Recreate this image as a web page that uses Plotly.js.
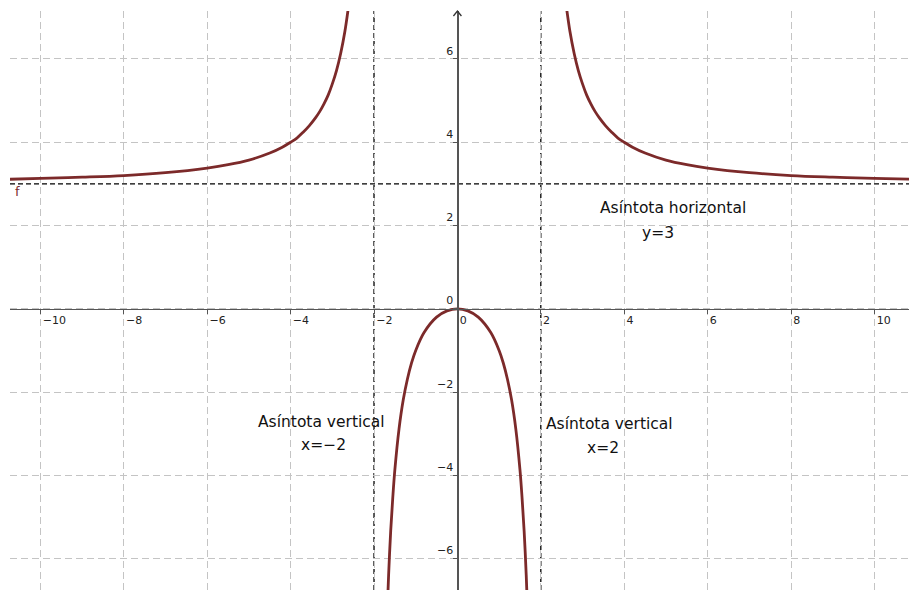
<!DOCTYPE html>
<html>
<head>
<meta charset="utf-8">
<script src="https://cdn.plot.ly/plotly-3.0.1.min.js"></script>
<style>
  html, body { margin: 0; padding: 0; background: #fff; }
  #plot { width: 909px; height: 590px; }
</style>
</head>
<body>
<div id="plot"></div>
<script>
// f(x), three branches
let leftX = [-10.75, -10, -9, -8, -7, -6, -5.5, -5, -4.5, -4.2, -4, -3.85, -3.7, -3.55, -3.4, -3.3, -3.2, -3.1, -3, -2.9, -2.8, -2.7, -2.6];
let leftY = [3.11, 3.13, 3.16, 3.2, 3.27, 3.38, 3.46, 3.57, 3.74, 3.88, 4.0, 4.1, 4.24, 4.4, 4.59, 4.74, 4.92, 5.13, 5.4, 5.72, 6.13, 6.65, 7.35];

let midX = [-1.68, -1.65, -1.6, -1.55, -1.5, -1.4, -1.3, -1.2, -1.1, -1, -0.8, -0.5, -0.25, 0, 0.25, 0.5, 0.8, 1, 1.1, 1.2, 1.3, 1.4, 1.5, 1.55, 1.6, 1.65, 1.68];
let midY = [-7.19, -6.39, -5.33, -4.53, -3.86, -2.88, -2.19, -1.69, -1.30, -1, -0.57, -0.2, -0.05, 0, -0.05, -0.2, -0.57, -1, -1.30, -1.69, -2.19, -2.88, -3.86, -4.53, -5.33, -6.39, -7.19];

let rightX = [2.6, 2.7, 2.8, 2.9, 3, 3.1, 3.2, 3.3, 3.4, 3.55, 3.7, 3.85, 4, 4.2, 4.5, 5, 5.5, 6, 7, 8, 9, 10, 10.9];
let rightY = [7.35, 6.65, 6.13, 5.72, 5.4, 5.13, 4.92, 4.74, 4.59, 4.4, 4.24, 4.1, 4.0, 3.88, 3.74, 3.57, 3.46, 3.38, 3.27, 3.2, 3.16, 3.13, 3.11];

// asymptotes
let vertAsymptotes = [-2, 2];
let horizAsymptotes = [3];

let xTicks = [-10, -8, -6, -4, -2, 0, 2, 4, 6, 8, 10];
let yTicks = [-6, -4, -2, 0, 2, 4, 6];

let xRange = [-10.73, 10.83];
let yRange = [-6.75, 7.15];

let curveColor = '#7c2a2a';

function branch(xs, ys) {
    return {
        x: xs,
        y: ys,
        type: 'scatter',
        mode: 'lines',
        line: {color: curveColor, width: 2.8, shape: 'spline', smoothing: 1},
        hoverinfo: 'x+y'
    };
}

let traces = [branch(leftX, leftY), branch(midX, midY), branch(rightX, rightY)];

let shapes = [];
vertAsymptotes.forEach(function(v) {
    shapes.push({
        type: 'line', xref: 'x', yref: 'paper',
        x0: v, x1: v, y0: 0, y1: 1,
        line: {color: '#000', width: 1.3, dash: '5px,3px'},
        layer: 'between'
    });
});
horizAsymptotes.forEach(function(h) {
    shapes.push({
        type: 'line', xref: 'paper', yref: 'y',
        x0: 0, x1: 1, y0: h, y1: h,
        line: {color: '#000', width: 1.3, dash: '5px,3px'},
        layer: 'between'
    });
});
// arrow on top of the y axis
shapes.push({
    type: 'path', xref: 'x', yref: 'paper',
    xsizemode: 'pixel', ysizemode: 'pixel',
    xanchor: 0, yanchor: 1,
    path: 'M -4,-5 L 0,0 L 4,-5',
    line: {color: '#333', width: 1.3}
});

let labelFont = {family: 'DejaVu Sans', size: 15.5, color: '#111'};
let annotations = [
    {x: 5.17, y: 2.42, text: 'Asíntota horizontal'},
    {x: 4.81, y: 1.82, text: 'y=3'},
    {x: -3.27, y: -2.71, text: 'Asíntota vertical'},
    {x: -3.2, y: -3.27, text: 'x=−2'},
    {x: 3.64, y: -2.77, text: 'Asíntota vertical'},
    {x: 3.49, y: -3.34, text: 'x=2'}
].map(function(a) {
    return Object.assign({xref: 'x', yref: 'y', showarrow: false, font: labelFont}, a);
});
annotations.push({
    x: -10.55, y: 2.82, xref: 'x', yref: 'y', text: 'f', showarrow: false,
    font: {family: 'DejaVu Sans', size: 13, color: curveColor}
});

let gridStyle = {
    showgrid: true,
    gridcolor: '#c4c4c4',
    gridwidth: 1,
    griddash: '7px,4px',
    zeroline: false,
    showline: true,
    linecolor: '#555',
    linewidth: 1.5,
    ticks: 'outside',
    ticklen: 4,
    tickcolor: '#555',
    tickfont: {family: 'DejaVu Sans', size: 11, color: '#222'},
    anchor: 'free',
    fixedrange: true
};

let layout = {
    width: 909,
    height: 590,
    margin: {l: 10, r: 0, t: 11, b: 0},
    paper_bgcolor: '#fff',
    plot_bgcolor: '#fff',
    showlegend: false,
    xaxis: Object.assign({}, gridStyle, {
        range: xRange,
        tickvals: xTicks,
        ticklabelposition: 'outside right',
        ticklabelshift: 1,
        position: (0 - yRange[0]) / (yRange[1] - yRange[0])
    }),
    yaxis: Object.assign({}, gridStyle, {
        range: yRange,
        tickvals: yTicks,
        ticklabelposition: 'outside top',
        ticklabelstandoff: 2,
        position: (0 - xRange[0]) / (xRange[1] - xRange[0])
    }),
    shapes: shapes,
    annotations: annotations
};

Plotly.newPlot('plot', traces, layout, {displayModeBar: false, staticPlot: true});
</script>
</body>
</html>
